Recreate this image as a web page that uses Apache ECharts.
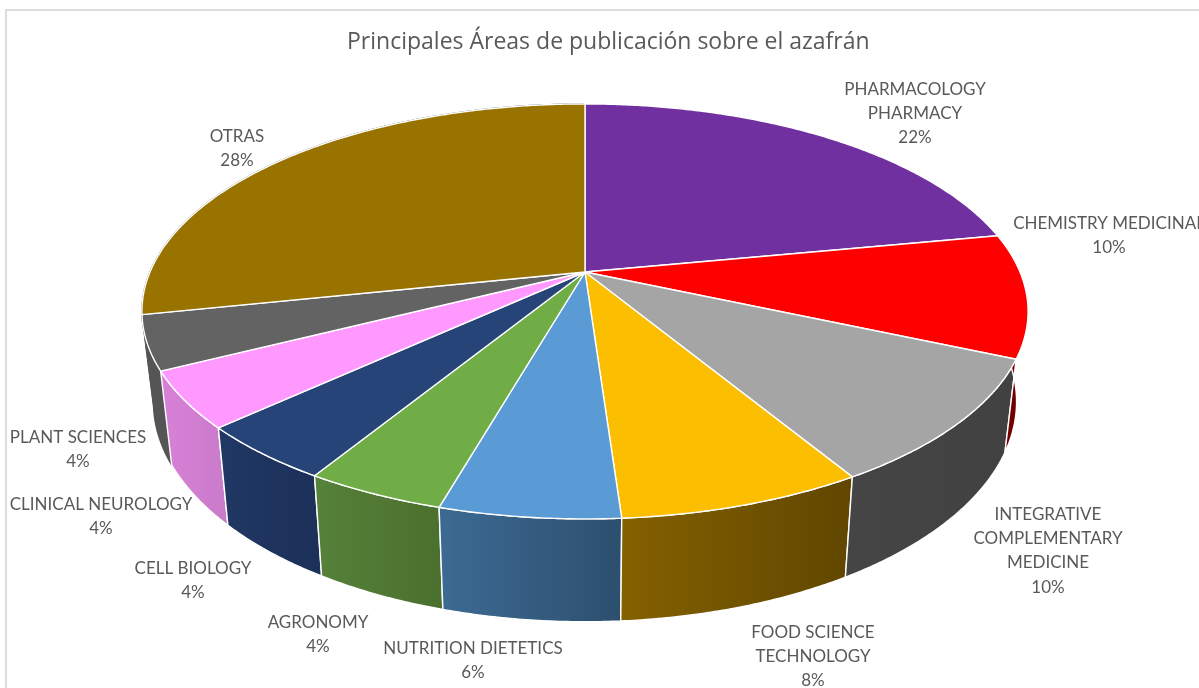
<!DOCTYPE html>
<html lang="es">
<head>
<meta charset="utf-8">
<title>Principales Áreas de publicación sobre el azafrán</title>
<script src="https://cdn.jsdelivr.net/npm/echarts@6/dist/echarts.min.js"></script>
<style>
  html, body { margin: 0; padding: 0; background: #fff; }
  #chart { width: 1199px; height: 688px; }
</style>
</head>
<body>
<div id="chart"></div>
<script>
// Publication shares per research area, clockwise from twelve o'clock.
const categories = [
  'PHARMACOLOGY\nPHARMACY',
  'CHEMISTRY MEDICINAL',
  'INTEGRATIVE\nCOMPLEMENTARY\nMEDICINE',
  'FOOD SCIENCE\nTECHNOLOGY',
  'NUTRITION DIETETICS',
  'AGRONOMY',
  'CELL BIOLOGY',
  'CLINICAL NEUROLOGY',
  'PLANT SCIENCES',
  'OTRAS'
];
const shares = [22.0, 9.6, 9.8, 7.51, 5.51, 4.3, 4.4, 4.4, 4.2, 28.28];

// Slice fills, and the left/right tones of each slice's outer wall.
const topColors = ['#7030A0', '#FF0000', '#A5A5A5', '#FBBE00', '#5B9BD5',
                   '#70AD47', '#264478', '#FF99FF', '#636363', '#997300'];
const wallColors = [
  ['#43205f', '#43205f'], ['#7a0000', '#6a0000'], ['#454545', '#414141'], ['#846100', '#604600'],
  ['#3d6a93', '#2d4f6e'], ['#56823a', '#4a6f2e'], ['#203864', '#1c3058'], ['#d880d8', '#c97bc9'],
  ['#555555', '#555555'], ['#555555', '#555555']
];

// Where each label block is centred horizontally, and where its first line sits.
const labelAnchors = [
  [915, 88], [1109, 222], [1048, 513], [813, 631], [473, 647],
  [318, 621], [193, 567], [101, 503], [78, 436], [237, 135]
];

// Perspective of the disc: a unit circle seen from above, nearer at the front.
const disc = { cx: 585, cy: 272, a: 435, b: 200, k: 0.19 };
// The underside of the pie relative to the top face.
const base = { xScale: 0.974, yScale: 1.06, cy: 360 };

function rimTop(angle) {
  const u = Math.sin(angle), v = -Math.cos(angle), w = 1 - disc.k * v;
  return [disc.cx + disc.a * u / w, disc.cy + disc.b * v / w];
}
function rimBottom(angle) {
  const p = rimTop(angle);
  return [disc.cx + base.xScale * (p[0] - disc.cx), base.cy + base.yScale * (p[1] - disc.cy)];
}
function arcPoints(project, from, to) {
  const steps = Math.max(2, Math.ceil((to - from) / 0.008));
  const pts = [];
  for (let i = 0; i <= steps; i++) pts.push(project(from + (to - from) * i / steps));
  return pts;
}

// Cumulative angular extents, derived from the shares.
const total = shares.reduce((s, v) => s + v, 0);
let running = 0;
const extents = shares.map((v, i) => {
  const start = running / total * Math.PI * 2;
  running += v;
  return [start, running / total * Math.PI * 2, v, i];
});

const edge = { stroke: '#ffffff', lineWidth: 1.4, lineJoin: 'round' };

function renderWall(params, api) {
  const from = api.value(0), to = api.value(1), i = api.value(3);
  const points = arcPoints(rimTop, from, to).concat(arcPoints(rimBottom, from, to).reverse());
  // The last two walls merge into one dark band at the far left.
  const seam = i >= shares.length - 2 ? { stroke: wallColors[i][0] } : {};
  return {
    type: 'polygon',
    shape: { points: points },
    style: Object.assign({
      fill: new echarts.graphic.LinearGradient(0, 0, 1, 0, [
        { offset: 0, color: wallColors[i][0] },
        { offset: 1, color: wallColors[i][1] }
      ])
    }, edge, seam)
  };
}

function renderTop(params, api) {
  const from = api.value(0), to = api.value(1), i = params.dataIndex;
  const points = [[disc.cx, disc.cy]].concat(arcPoints(rimTop, from, to));
  return {
    type: 'polygon',
    shape: { points: points },
    style: Object.assign({ fill: topColors[i] }, edge)
  };
}

function renderLabel(params, api) {
  const i = params.dataIndex;
  return {
    type: 'text',
    style: {
      text: categories[i] + '\n' + Math.round(api.value(2) / total * 100) + '%',
      x: labelAnchors[i][0],
      y: labelAnchors[i][1] - 11,
      align: 'center',
      verticalAlign: 'top',
      fontFamily: 'Lato, "Open Sans", sans-serif',
      fontSize: 17,
      lineHeight: 24.4,
      fill: '#595959'
    }
  };
}

const chart = echarts.init(document.getElementById('chart'), null, { renderer: 'canvas' });
chart.setOption({
  animation: false,
  backgroundColor: '#ffffff',
  title: {
    text: 'Principales Áreas de publicación sobre el azafrán',
    left: 347,
    top: 31,
    padding: 0,
    textStyle: {
      fontFamily: '"Open Sans", Lato, sans-serif',
      fontWeight: 'normal',
      fontSize: 23,
      color: '#595959'
    }
  },
  graphic: [{
    type: 'polyline',
    silent: true,
    shape: { points: [[1199, 10], [6, 10], [6, 688]] },
    style: { stroke: '#dddddd', lineWidth: 2, fill: null }
  }],
  series: [
    // Walls run last-to-first so each slice's white seam stays on top of its dark neighbour.
    { type: 'custom', coordinateSystem: 'none', z: 1, renderItem: renderWall, data: extents.slice().reverse(), silent: true },
    { type: 'custom', coordinateSystem: 'none', z: 2, renderItem: renderTop, data: extents, silent: true },
    { type: 'custom', coordinateSystem: 'none', z: 3, renderItem: renderLabel, data: extents, silent: true }
  ]
});
</script>
</body>
</html>
